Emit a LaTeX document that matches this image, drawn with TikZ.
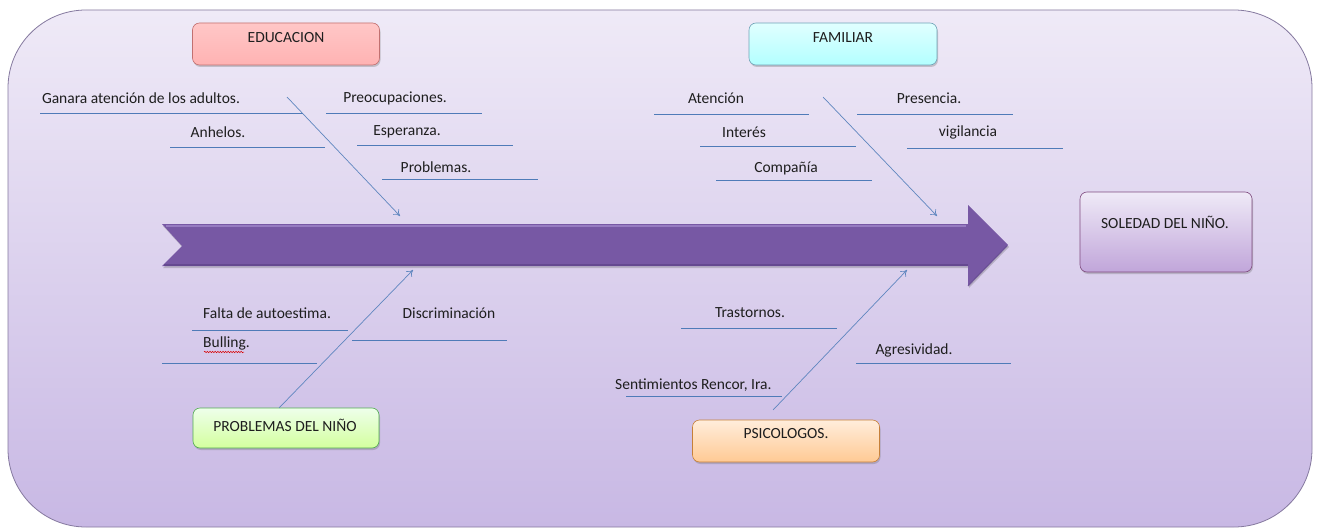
\documentclass[tikz,border=0pt]{standalone}
\usepackage{fontspec}
\setmainfont{Carlito}
\usetikzlibrary{shadows,arrows.meta,decorations.pathmorphing}
\definecolor{bonec}{HTML}{5F86BF}
\definecolor{linec}{HTML}{4F7BB8}
\definecolor{bgtop}{HTML}{EFEAF7}
\definecolor{bgbot}{HTML}{C8B8E4}
\definecolor{bgline}{HTML}{85799F}
\definecolor{spmid}{HTML}{7758A4}
\definecolor{sptop}{HTML}{9E84C9}
\definecolor{spbot}{HTML}{5E4488}
\definecolor{txt}{HTML}{1E1E1E}
\begin{document}
\begin{tikzpicture}[x=1pt,y=-1pt,
  font=\fontsize{15.5}{18}\selectfont,
  box/.style={rounded corners=7pt, draw, line width=0.6pt,
    drop shadow={shadow xshift=1pt,shadow yshift=-2pt,opacity=0.3,fill=black!60},
    inner sep=0pt},
  lbl/.style={inner sep=1pt, text=txt},
  uline/.style={draw=linec, line width=0.7pt},
  bone/.style={draw=bonec, line width=0.7pt, -{To[length=6pt,width=8pt]}}]
\useasboundingbox (0,0) rectangle (1317,532);
\fill[white] (0,0) rectangle (1317,532);
% background panel
\path[draw=bgline, line width=0.8pt, rounded corners=78pt, top color=bgtop, bottom color=bgbot]
  (8,10) rectangle (1312,527);
% spine
\coordinate (sp1) at (162,224);
\coordinate (sp2) at (968,224);
\coordinate (sp3) at (968,205);
\coordinate (tip) at (1008,245);
\coordinate (sp4) at (968,286);
\coordinate (sp5) at (968,266);
\coordinate (sp6) at (162,266);
\coordinate (notch) at (182,246);
\path[drop shadow={shadow xshift=1pt,shadow yshift=-2pt,opacity=0.25,fill=black!70},
  fill=spmid]
  (sp1) -- (sp2) -- (sp3) -- (tip) -- (sp4) -- (sp5) -- (sp6) -- (notch) -- cycle;
\draw[sptop, line width=2.5pt, opacity=0.8] (166,226) -- (966,226);
\draw[spbot, line width=1.5pt, opacity=0.7] (164,265) -- (968,265);
\draw[spbot, line width=1.2pt, opacity=0.6] (968,286) -- (1007,246);

% category boxes
\node[box, draw=red!40!gray!80, top color=red!22, bottom color=red!30!white,
  minimum width=187pt, minimum height=42pt] (edu) at (286,44) {};
\node[lbl] (edut) at (286,38) {EDUCACION};
\node[box, draw=cyan!40!gray, top color=cyan!12, bottom color=cyan!30!white,
  minimum width=188pt, minimum height=42pt] (fam) at (843,44) {};
\node[lbl] (famt) at (843,38) {FAMILIAR};
\node[box, draw=violet!40!gray, top color=bgtop, bottom color=bgbot!90!violet,
  minimum width=172pt, minimum height=80pt] (sol) at (1166,232) {};
\node[lbl] (solt) at (1165,222) {SOLEDAD DEL NIÑO.};
\node[box, draw=green!35!gray, top color=yellow!15!green!8, bottom color=yellow!55!green!38,
  minimum width=186pt, minimum height=40pt] (prob) at (286,428) {};
\node[lbl] (probt) at (285,425) {PROBLEMAS DEL NIÑO};
\node[box, draw=orange!55!gray, top color=orange!14, bottom color=orange!42!white,
  minimum width=187pt, minimum height=42pt] (psi) at (786,441) {};
\node[lbl] (psit) at (786,434) {PSICOLOGOS.};

% bones
\coordinate (e0) at (287,97);  \coordinate (e1) at (400,216);
\coordinate (f0) at (823,97);  \coordinate (f1) at (937,216);
\coordinate (p0) at (279,408); \coordinate (p1) at (413,270);
\coordinate (s0) at (773,410); \coordinate (s1) at (907,270);
\draw[bone] (e0) -- (e1);
\draw[bone] (f0) -- (f1);
\draw[bone] (p0) -- (p1);
\draw[bone] (s0) -- (s1);

% top-left causes
\node[lbl] (c1) at (141,98) {Ganara atención de los adultos.};
\draw[uline] (40,113) -- (303,113);
\node[lbl] (c2) at (218,132) {Anhelos.};
\draw[uline] (170,147) -- (325,147);
\node[lbl] (c3) at (395,98) {Preocupaciones.};
\draw[uline] (326,113) -- (482,113);
\node[lbl] (c4) at (407,132) {Esperanza.};
\draw[uline] (357,145) -- (513,145);
\node[lbl] (c5) at (436,167) {Problemas.};
\draw[uline] (382,179) -- (538,179);

% top-right causes
\node[lbl] (c6) at (716,98) {Atención};
\draw[uline] (654,114) -- (809,114);
\node[lbl] (c7) at (744,132) {Interés};
\draw[uline] (700,146) -- (856,146);
\node[lbl] (c8) at (786,168) {Compañía};
\draw[uline] (716,180) -- (872,180);
\node[lbl] (c9) at (929,98) {Presencia.};
\draw[uline] (857,114) -- (1013,114);
\node[lbl] (c10) at (968,132) {vigilancia};
\draw[uline] (907,148) -- (1063,148);

% bottom-left causes
\node[lbl, anchor=west] (c11) at (202,313) {Falta de autoestima.};
\draw[uline] (192,330) -- (348,330);
\node[lbl, anchor=west] (c12) at (202,343) {Bulling.};
\draw[red!85!black, line width=0.5pt, decorate, decoration={snake, amplitude=0.7pt, segment length=2.6pt}]
  (204,352) -- (244,352);
\draw[uline] (162,363) -- (317,363);
\node[lbl] (c13) at (449,313) {Discriminación};
\draw[uline] (352,340) -- (507,340);

% bottom-right causes
\node[lbl] (c14) at (750,313) {Trastornos.};
\draw[uline] (681,328) -- (837,328);
\node[lbl] (c15) at (914,350) {Agresividad.};
\draw[uline] (856,363) -- (1011,363);
\node[lbl, anchor=west] (c16) at (614,385) {Sentimientos Rencor, Ira.};
\draw[uline] (626,396) -- (782,396);
\end{tikzpicture}
\end{document}
